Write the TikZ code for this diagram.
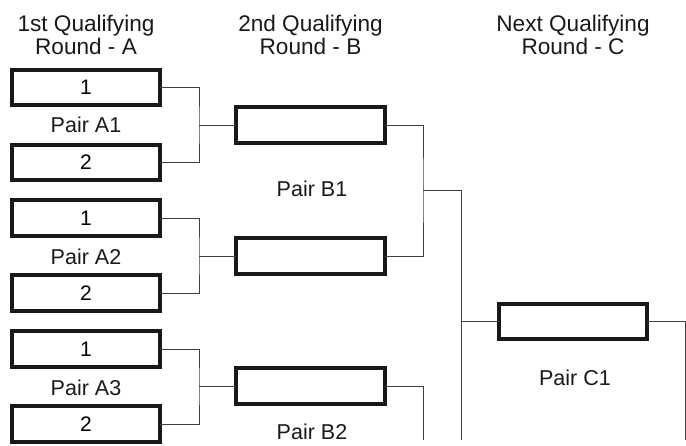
\documentclass[tikz,border=0pt]{standalone}
\usepackage{fontspec}
\setmainfont{Liberation Sans}
\begin{document}
\begin{tikzpicture}[x=1pt,y=-1pt,
  slot/.style={draw=black!90,line width=3.6pt,minimum width=148.5pt,minimum height=35.5pt,inner sep=0pt,outer sep=0pt,font=\fontsize{21}{23}\selectfont},
  lbl/.style={font=\fontsize{21.5}{23}\selectfont,anchor=base,inner sep=0pt,text=black!90},
  head/.style={lbl,font=\fontsize{22.6}{24}\selectfont},
  link/.style={draw=black!75,line width=0.9pt}]
\useasboundingbox (0,0) rectangle (686,446);
% headers
\node[head] (h1a) at (86,32) {1st Qualifying};
\node[head] (h1b) at (86,55) {Round - A};
\node[head] (h2a) at (310.5,32) {2nd Qualifying};
\node[head] (h2b) at (310.5,55) {Round - B};
\node[head] (h3a) at (573,32) {Next Qualifying};
\node[head] (h3b) at (573,55) {Round - C};
% slots
\node[slot] (a11) at (86,87.5) {1};
\node[slot] (a12) at (86,162.5) {2};
\node[slot] (a21) at (86,218) {1};
\node[slot] (a22) at (86,293) {2};
\node[slot] (a31) at (86,349) {1};
\node[slot] (a32) at (86,424) {2};
\node[slot] (b1) at (310.5,125) {};
\node[slot] (b2) at (310.5,256) {};
\node[slot] (b3) at (310.5,386) {};
\node[slot] (c1) at (573,321.5) {};
% pair labels
\node[lbl] (pa1) at (86,133) {Pair A1};
\node[lbl] (pa2) at (86,265) {Pair A2};
\node[lbl] (pa3) at (86,396) {Pair A3};
\node[lbl] (pb1) at (312,197) {Pair B1};
\node[lbl] (pb2) at (312,440) {Pair B2};
\node[lbl] (pc1) at (575,386) {Pair C1};
% junctions
\coordinate (ja1) at (199,125);
\coordinate (ja2) at (199,256);
\coordinate (ja3) at (199,386);
\coordinate (jb1) at (423,190);
\coordinate (jb2) at (423,440);
\coordinate (jct) at (461,190);
\coordinate (jcm) at (461,321.5);
\coordinate (jcb) at (461,440);
\coordinate (jd) at (685.5,440);
% connectors
\draw[link] (a11.east) -| (ja1) |- (a12.east);
\draw[link] (ja1) -- (b1.west);
\draw[link] (a21.east) -| (ja2) |- (a22.east);
\draw[link] (ja2) -- (b2.west);
\draw[link] (a31.east) -| (ja3) |- (a32.east);
\draw[link] (ja3) -- (b3.west);
\draw[link] (b1.east) -| (jb1) |- (b2.east);
\draw[link] (jb1) -- (jct) -- (jcb);
\draw[link] (jcm) -- (c1.west);
\draw[link] (b3.east) -| (jb2);
\draw[link] (c1.east) -| (jd);
\end{tikzpicture}
\end{document}
